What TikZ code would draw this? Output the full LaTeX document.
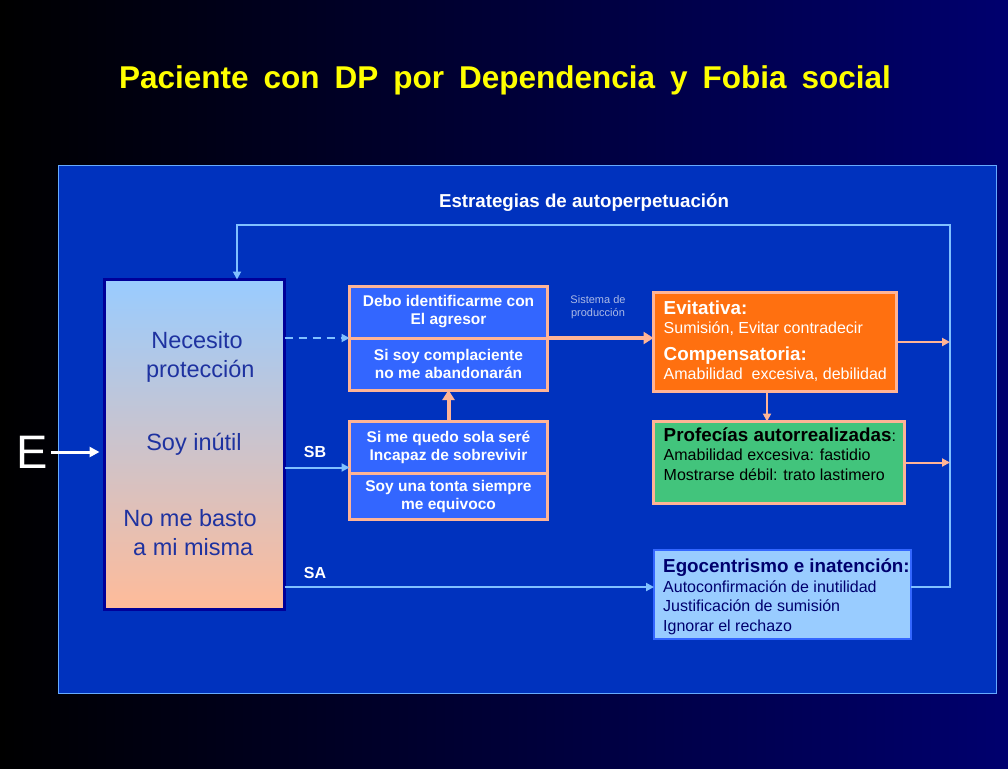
\documentclass[tikz,border=0pt]{standalone}
\usepackage{fontspec}
\setmainfont{Liberation Sans}
\usepackage{tikz}
\usetikzlibrary{arrows.meta, positioning, calc}
\definecolor{bgnavy}{RGB}{0,0,110}
\definecolor{panelblue}{RGB}{0,50,190}
\definecolor{panelline}{RGB}{102,170,255}
\definecolor{linkblue}{RGB}{128,192,255}
\definecolor{peach}{RGB}{255,180,150}
\definecolor{cellblue}{RGB}{51,102,255}
\definecolor{evorange}{RGB}{255,112,16}
\definecolor{profgreen}{RGB}{66,196,124}
\definecolor{egoblue}{RGB}{153,204,255}
\definecolor{textnavy}{RGB}{0,0,110}
\definecolor{beliefnavy}{RGB}{0,0,153}
\definecolor{belieftext}{RGB}{30,50,160}
\definecolor{beliefpeach}{RGB}{255,187,153}
\definecolor{titleyellow}{RGB}{255,255,0}
\definecolor{prodgrey}{RGB}{170,185,230}
\newcommand{\pxfont}[2]{\fontsize{#1}{#2}\selectfont}
\newcommand{\headfont}{\bfseries\pxfont{18.8}{21}}
\tikzset{
    beliefbox/.style={rectangle, minimum width=180pt, minimum height=330pt, outer sep=0pt,
        draw=beliefnavy, line width=3pt, top color=egoblue, bottom color=beliefpeach},
    beliefline/.style={align=center, text=belieftext, font=\pxfont{23.5}{29}},
    cellbox/.style={rectangle, minimum width=198pt, minimum height=52pt, outer sep=0pt, inner sep=2pt,
        draw=peach, line width=3pt, fill=cellblue, text=white, align=center, font=\bfseries\pxfont{15.5}{18}},
    stratbox/.style={rectangle, outer sep=0pt, draw=peach, line width=3pt},
    boxtext/.style={align=left, inner sep=0pt, font=\pxfont{16}{19.5}},
    pathlabel/.style={text=white, font=\bfseries\pxfont{16}{18}},
    linkarrow/.style={-{Triangle[length=8pt, width=8pt]}, linkblue, line width=2pt},
    peacharrow/.style={-{Triangle[length=10pt, width=12pt]}, peach, line width=4pt},
    peachthin/.style={-{Triangle[length=8pt, width=8pt]}, peach, line width=2pt},
}
\begin{document}
\begin{tikzpicture}[x=1pt, y=-1pt]
    \useasboundingbox (0,0) rectangle (1008,768);
    \shade[left color=black, right color=bgnavy] (0,0) rectangle (1008,768);
    \node[text=titleyellow, font=\bfseries\pxfont{31.5}{36}] (title) at (505,80)
        {\spaceskip=15pt\relax Paciente con DP por Dependencia y Fobia social};

    % panel
    \draw[draw=panelline, fill=panelblue, line width=1pt] (58,165) rectangle (996,693);
    \node[text=white, font=\bfseries\pxfont{18.7}{20}] (strat) at (584,203) {Estrategias de autoperpetuaci\'on};

    % core beliefs
    \node[beliefbox] (belief) at (194.5,444.5) {};
    \node[beliefline] (protect) at (197,357) {Necesito\\ \ protecci\'on};
    \node[beliefline] (useless) at (194,444) {Soy in\'util};
    \node[beliefline] (alone) at (190,533) {No me basto\\ \ a mi misma};

    \node[text=white, font=\pxfont{47}{50}] (stim) at (32,452) {E};
    \draw[-{Triangle[length=10pt, width=10pt]}, white, line width=3pt, shorten >=5pt] (stim.east) -- (stim.east -| belief.west);

    % middle cells
    \node[cellbox] (identify) at (448.5,312) {Debo identificarme con\\El agresor};
    \node[cellbox, below=0pt of identify] (please) {Si soy complaciente\\no me abandonar\'an};
    \node[cellbox] (alonecell) at (448.5,447.5) {Si me quedo sola ser\'e\\Incapaz de sobrevivir};
    \node[cellbox, minimum height=46pt, below=0pt of alonecell] (fool) {Soy una tonta siempre\\me equivoco};

    % strategy boxes
    \node[stratbox, fill=evorange, minimum width=243pt, minimum height=99pt] (evit) at (775,342) {};
    \node[boxtext, text=white, anchor=north west] (evittext) at ([shift={(10,8)}]evit.north west)
        {{\headfont Evitativa:}\\ Sumisi\'on, Evitar contradecir\\[7pt]
         {\headfont Compensatoria:}\\ Amabilidad\ \ excesiva, debilidad};
    \node[stratbox, fill=profgreen, minimum width=251pt, minimum height=82pt] (prof) at (779,462.5) {};
    \node[boxtext, text=black, anchor=north west] (proftext) at ([shift={(10,6)}]prof.north west)
        {{\headfont Profec\'ias autorrealizadas}:\\ Amabilidad excesiva: fastidio\\ Mostrarse d\'ebil: trato lastimero};
    \node[rectangle, outer sep=0pt, draw=cellblue, line width=2pt, fill=egoblue,
        minimum width=257pt, minimum height=89pt] (ego) at (782.5,594.5) {};
    \node[boxtext, text=textnavy, anchor=north west] (egotext) at ([shift={(9,9)}]ego.north west)
        {{\headfont Egocentrismo e inatenci\'on:}\\ Autoconfirmaci\'on de inutilidad\\
         Justificaci\'on de sumisi\'on\\ Ignorar el rechazo};

    \node[text=prodgrey, align=center, font=\pxfont{11}{13}] (prod) at (598,307) {Sistema de\\producci\'on};

    % connectors
    \draw[linkarrow, dashed, dash pattern=on 8pt off 6pt] (belief.east |- please.north) -- (please.north west);
    \coordinate (sbin) at ([yshift=6pt]alonecell.south west);
    \draw[linkarrow] (belief.east |- sbin) -- (sbin);
    \node[pathlabel] (sb) at (315,452) {SB};
    \coordinate (sain) at ([yshift=7.5pt]ego.west);
    \draw[linkarrow] (belief.east |- sain) -- (sain);
    \node[pathlabel] (sa) at (315,573) {SA};

    \draw[peacharrow] (alonecell.north) -- (please.south);
    \draw[peacharrow] (please.north east) -- (please.north east -| evit.west);

    \coordinate (loopse) at (950,587);
    \coordinate (loopne) at (950,225);
    \coordinate (loopnw) at (237,225);
    \draw[linkarrow] (sain -| ego.east) -- (loopse) -- (loopne) -- (loopnw) -- (loopnw |- belief.north);

    \draw[peachthin] (evit.east) -- (evit.east -| loopse);
    \draw[peachthin] (prof.east) -- (prof.east -| loopse);
    \draw[peachthin] ([xshift=-8pt]evit.south) -- ([xshift=-8pt]evit.south |- prof.north);
\end{tikzpicture}
\end{document}
